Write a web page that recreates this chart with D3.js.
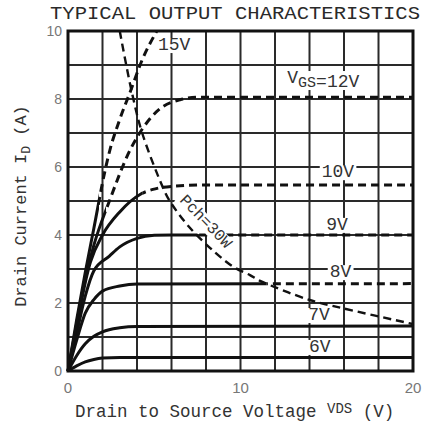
<!DOCTYPE html>
<html><head><meta charset="utf-8">
<script src="https://cdn.jsdelivr.net/npm/d3@7"></script>
<style>html,body{margin:0;padding:0;background:#fff}</style>
</head><body>
<svg id="c" width="426" height="427"></svg>
<script>
// ---- data ----
const xTicks = [0, 10, 20];
const yTicks = [0, 2, 4, 6, 8, 10];
const gateVoltages = ["6V", "7V", "8V", "9V", "10V", "12V", "15V"];
const curve6  = [[0,0],[0.5,0.15],[1,0.27],[1.5,0.34],[2,0.38],[3,0.4],[20,0.4]];
const curve7  = [[0,0],[0.5,0.45],[1,0.8],[1.5,1.02],[2,1.15],[3,1.27],[4,1.31],[20,1.32]];
const curve8  = [[0,0],[0.5,0.9],[1,1.7],[1.5,2.1],[2,2.35],[3,2.5],[4,2.56],[20,2.57]];
const curve9  = [[0,0],[0.5,1.1],[1,2.2],[1.5,2.95],[2.4,3.38],[3,3.65],[4,3.9],[5,3.99],[6,4.0],[20,4.0]];
const curve10 = [[0,0],[0.5,1.3],[1,2.6],[1.3,3.2],[2,4.0],[3,4.68],[4.2,5.2],[5,5.35],[6,5.43],[8,5.47],[20,5.47]];
const curve12 = [[0,0],[0.5,1.4],[1,2.7],[1.5,3.7],[2.4,5.0],[3.6,6.5],[4.35,7.15],[5.3,7.7],[6.5,7.98],[7.5,8.05],[20,8.05]];
const curve15 = [[0,0],[0.5,1.5],[1,2.9],[1.5,4.2],[2.15,5.9],[2.43,6.5],[3,7.4],[3.6,8.2],[4.3,9.15],[5.15,10]];
const curves = [curve6, curve7, curve8, curve9, curve10, curve12, curve15];
const solidUntil = [20, 20, 11.5, 7.5, 4.3, 2.2, 1.8];   // V_DS where each curve turns dashed
const powerCurve = [[3.0,10],[3.7,8.2],[4.3,7.0],[5.5,5.4],[5.9,5.0],[7,4.25],[8.5,3.5],[9.6,3.06],[10.55,2.82],[11.1,2.66],[14,2.09],[15.9,1.85],[20,1.38]];
const curveLabels = ["6V", "7V", "8V", "9V", "10V", "VGS=12V", "15V"];
const labelAt = [[14.6,0.56],[14.55,1.5],[15.8,2.76],[15.6,4.15],[15.65,5.7],[14.8,8.47],[6.15,9.44]];
const powerLabel = "Pch=30W";
const powerLabelAt = [8, 4.4];

// ---- layout ----
const svg = d3.select("#c");
const M = {l: 68, r: 413, t: 31, b: 371};
const x = d3.scaleLinear().domain([0, 20]).range([M.l, M.r]);
const y = d3.scaleLinear().domain([0, 10]).range([M.b, M.t]);
const mono = "'Liberation Mono','DejaVu Sans Mono',monospace";
const ink = "#111";

// grid
const g = svg.append("g");
g.selectAll(".vx").data(d3.range(0, 21, 2)).join("line")
  .attr("x1", d => x(d)).attr("x2", d => x(d)).attr("y1", M.t).attr("y2", M.b)
  .attr("stroke", "#2a2a2a").attr("stroke-width", 2);
g.selectAll(".hy").data(d3.range(0, 11, 1)).join("line")
  .attr("y1", d => y(d)).attr("y2", d => y(d)).attr("x1", M.l).attr("x2", M.r)
  .attr("stroke", "#2a2a2a").attr("stroke-width", 2);

// clip paths for solid/dashed parts
const defs = svg.append("defs");
defs.append("clipPath").attr("id", "plot").append("rect")
  .attr("x", M.l).attr("y", M.t).attr("width", M.r - M.l).attr("height", M.b - M.t);
curves.forEach((c, i) => {
  defs.append("clipPath").attr("id", "s" + i).append("rect")
    .attr("x", M.l - 5).attr("y", M.t).attr("width", x(solidUntil[i]) - M.l + 5).attr("height", M.b - M.t + 5);
  defs.append("clipPath").attr("id", "d" + i).append("rect")
    .attr("x", x(solidUntil[i])).attr("y", M.t).attr("width", M.r - x(solidUntil[i]) + 5).attr("height", M.b - M.t);
});

const line = d3.line().x(d => x(d[0])).y(d => y(d[1])).curve(d3.curveMonotoneX);
const cg = svg.append("g");
curves.forEach((c, i) => {
  cg.append("path").attr("d", line(c)).attr("fill", "none").attr("stroke", ink)
    .attr("stroke-width", 3).attr("clip-path", `url(#s${i})`);
  if (solidUntil[i] < 20)
    cg.append("path").attr("d", line(c)).attr("fill", "none").attr("stroke", ink)
      .attr("stroke-width", 3).attr("stroke-dasharray", "8,5").attr("clip-path", `url(#d${i})`);
});
cg.append("path").attr("d", d3.line().x(d => x(d[0])).y(d => y(d[1])).curve(d3.curveCatmullRom)(powerCurve))
  .attr("fill", "none").attr("stroke", ink).attr("stroke-width", 2.4).attr("stroke-dasharray", "8,5")
  .attr("clip-path", "url(#plot)");

// border
svg.append("rect").attr("x", M.l).attr("y", M.t).attr("width", M.r - M.l).attr("height", M.b - M.t)
  .attr("fill", "none").attr("stroke", ink).attr("stroke-width", 3);

// curve labels
curveLabels.forEach((t, i) => {
  const lg = svg.append("g");
  const tx = lg.append("text").attr("x", x(labelAt[i][0])).attr("y", y(labelAt[i][1]))
    .attr("text-anchor", "middle").attr("font-family", mono).attr("font-size", 18)
    .attr("fill", "#333");
  if (t.startsWith("VGS")) {
    tx.append("tspan").text("V");
    tx.append("tspan").text("GS").attr("font-size", 15).attr("dy", 4);
    tx.append("tspan").text("=12V").attr("dy", 0);
  } else tx.text(t);
  const bb = tx.node().getBBox();
  lg.insert("rect", "text").attr("x", bb.x - 2).attr("y", bb.y + 3).attr("width", bb.width + 4)
    .attr("height", bb.height - 5).attr("fill", "#fff");
});

// power label
const pg = svg.append("g").attr("transform", `translate(${x(powerLabelAt[0])},${y(powerLabelAt[1])}) rotate(46)`);
const pt = pg.append("text").attr("text-anchor", "middle").attr("dy", 5)
  .attr("font-family", mono).attr("font-size", 16).attr("fill", "#333").text(powerLabel);
const pb = pt.node().getBBox();
pg.insert("rect", "text").attr("x", pb.x - 3).attr("y", pb.y + 2).attr("width", pb.width + 6)
  .attr("height", pb.height - 3).attr("fill", "#fff");

// tick labels
svg.append("g").selectAll("text").data(xTicks).join("text")
  .attr("x", d => x(d)).attr("y", 393).attr("text-anchor", "middle")
  .attr("font-family", "'Liberation Sans',Arial,sans-serif").attr("font-size", 15).attr("fill", "#777")
  .text(d => d);
svg.append("g").selectAll("text").data(yTicks).join("text")
  .attr("x", 62).attr("y", d => y(d) + 5).attr("text-anchor", "end")
  .attr("font-family", "'Liberation Sans',Arial,sans-serif").attr("font-size", 14).attr("fill", "#777")
  .text(d => d);

// title
svg.append("text").attr("x", 235).attr("y", 19).attr("text-anchor", "middle")
  .attr("font-family", mono).attr("font-size", 19).attr("fill", "#2a2a2a")
  .attr("textLength", 370).attr("lengthAdjust", "spacingAndGlyphs")
  .text("TYPICAL OUTPUT CHARACTERISTICS");

// x axis title
const xt = svg.append("text").attr("x", 75).attr("y", 417)
  .attr("font-family", mono).attr("font-size", 17.5).attr("fill", "#333");
xt.append("tspan").text("Drain to Source Voltage ");
xt.append("tspan").text("VDS").attr("font-size", 14).attr("dy", -4);
xt.append("tspan").text(" (V)").attr("dy", 4);

// y axis title
const yt = svg.append("text").attr("transform", "translate(26,206) rotate(-90)")
  .attr("text-anchor", "middle").attr("font-family", mono).attr("font-size", 17).attr("fill", "#333");
yt.append("tspan").text("Drain Current I");
yt.append("tspan").text("D").attr("font-size", 13).attr("dy", 4);
yt.append("tspan").text(" (A)").attr("dy", -4);
</script>
</body></html>
